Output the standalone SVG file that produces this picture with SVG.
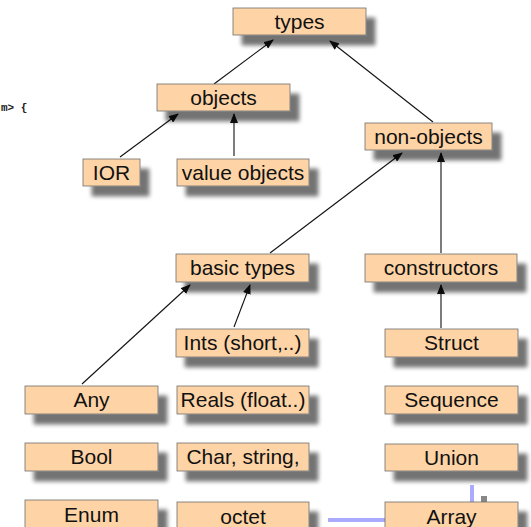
<svg xmlns="http://www.w3.org/2000/svg" width="531" height="527" viewBox="0 0 531 527">
<defs>
<style>
.box rect{fill:#fed4a6;stroke:#6e6e6e;stroke-width:0.8;filter:url(#sh)}
.box text{font-family:"Liberation Sans",Arial,sans-serif;font-size:21px;fill:#111;text-anchor:middle}
.conn line{stroke:#111;stroke-width:1.1;marker-end:url(#ah)}
</style>
<filter id="sh" x="-20%" y="-30%" width="150%" height="190%">
<feGaussianBlur in="SourceAlpha" stdDeviation="2"/>
<feOffset dx="9" dy="10" result="b"/>
<feComponentTransfer in="b" result="c"><feFuncA type="linear" slope="0.55"/></feComponentTransfer>
<feMerge><feMergeNode in="c"/><feMergeNode in="SourceGraphic"/></feMerge>
</filter>
<marker id="ah" markerWidth="10" markerHeight="8" refX="9" refY="4" orient="auto" markerUnits="userSpaceOnUse">
<path d="M0,0 L10,4 L0,8 z" fill="#111"/>
</marker>
</defs>
<rect width="531" height="527" fill="#fff"/>
<text x="1" y="111" font-family="Liberation Mono,monospace" font-weight="bold" font-size="11" fill="#222">m&gt; {</text>
<g id="extras" fill="none">
<line x1="472" y1="485" x2="472" y2="503" stroke="#aaaaff" stroke-width="4"/>
<rect x="481" y="496" width="6" height="6" fill="#888"/>
<line x1="328" y1="520" x2="386" y2="520" stroke="#aaaaff" stroke-width="4"/>
</g>
<g class="conn" id="connectors">
<line x1="214" y1="84" x2="273" y2="40"/>
<line x1="433" y1="122" x2="330" y2="41"/>
<line x1="120" y1="157" x2="178" y2="114"/>
<line x1="234" y1="156" x2="234" y2="114"/>
<line x1="270" y1="253" x2="402" y2="153"/>
<line x1="441" y1="253" x2="441" y2="153"/>
<line x1="82" y1="384" x2="190" y2="285"/>
<line x1="234" y1="327" x2="250" y2="285"/>
<line x1="441" y1="328" x2="441" y2="285"/>
</g>
<g class="box" id="types"><rect x="233" y="8" width="133" height="27"/><text x="299.5" y="29">types</text></g>
<g class="box" id="objects"><rect x="157" y="84" width="133" height="27"/><text x="223.5" y="105">objects</text></g>
<g class="box" id="ior"><rect x="83" y="159" width="57" height="27"/><text x="111.5" y="180">IOR</text></g>
<g class="box" id="valueobjects"><rect x="177" y="159" width="132" height="27"/><text x="243" y="180">value objects</text></g>
<g class="box" id="nonobjects"><rect x="365" y="123" width="127" height="27"/><text x="428.5" y="144">non-objects</text></g>
<g class="box" id="basictypes"><rect x="176" y="254" width="133" height="28"/><text x="242.5" y="275">basic types</text></g>
<g class="box" id="constructors"><rect x="365" y="254" width="152" height="28"/><text x="441" y="275">constructors</text></g>
<g class="box" id="ints"><rect x="176" y="329" width="133" height="28"/><text x="242.5" y="350">Ints (short,..)</text></g>
<g class="box" id="struct"><rect x="385" y="329" width="133" height="28"/><text x="451.5" y="350">Struct</text></g>
<g class="box" id="any"><rect x="25" y="386" width="133" height="28"/><text x="91.5" y="407">Any</text></g>
<g class="box" id="reals"><rect x="177" y="386" width="132" height="28"/><text x="243" y="407">Reals (float..)</text></g>
<g class="box" id="sequence"><rect x="385" y="386" width="133" height="28"/><text x="451.5" y="407">Sequence</text></g>
<g class="box" id="bool"><rect x="25" y="443" width="133" height="28"/><text x="91.5" y="464">Bool</text></g>
<g class="box" id="char"><rect x="177" y="443" width="132" height="28"/><text x="243" y="464">Char, string,</text></g>
<g class="box" id="union"><rect x="385" y="444" width="133" height="27"/><text x="451.5" y="465">Union</text></g>
<g class="box" id="enum"><rect x="25" y="500" width="133" height="30"/><text x="91.5" y="522">Enum</text></g>
<g class="box" id="octet"><rect x="177" y="502" width="132" height="30"/><text x="243" y="524">octet</text></g>
<g class="box" id="array"><rect x="385" y="502" width="133" height="30"/><text x="451.5" y="524">Array</text></g>
</svg>
